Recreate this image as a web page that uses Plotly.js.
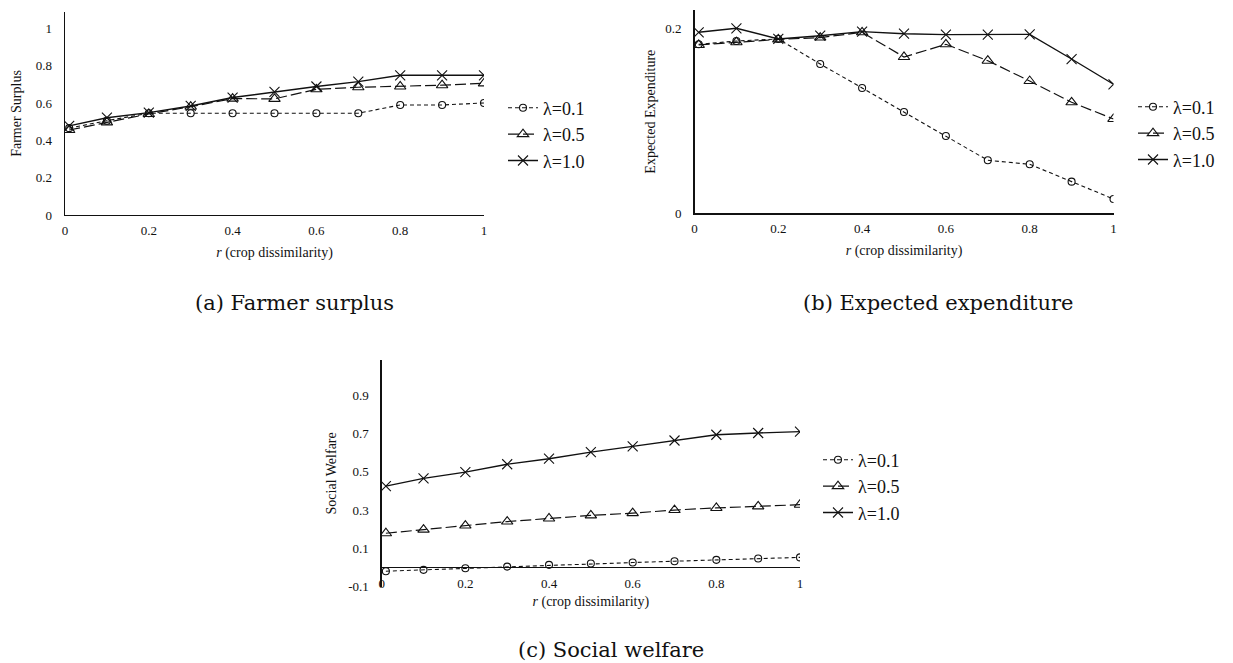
<!DOCTYPE html>
<html>
<head>
<meta charset="utf-8">
<script src="https://cdn.plot.ly/plotly-3.0.1.min.js"></script>
<style>html,body{margin:0;padding:0;background:#fff;}#chart{width:1233px;height:663px;}</style>
</head>
<body>
<div id="chart"></div>
<script>
// ---- data ----
const r = [0.01, 0.1, 0.2, 0.3, 0.4, 0.5, 0.6, 0.7, 0.8, 0.9, 1];
const seriesNames = ['λ=0.1', 'λ=0.5', 'λ=1.0'];

const farmer01 = [0.465, 0.505, 0.545, 0.545, 0.545, 0.545, 0.545, 0.545, 0.589, 0.589, 0.600];
const farmer05 = [0.455, 0.496, 0.541, 0.580, 0.623, 0.622, 0.673, 0.684, 0.688, 0.695, 0.705];
const farmer10 = [0.477, 0.521, 0.548, 0.584, 0.629, 0.659, 0.688, 0.714, 0.748, 0.748, 0.748];

const expend01 = [0.1827, 0.1863, 0.1885, 0.1614, 0.1355, 0.1095, 0.0836, 0.0573, 0.0530, 0.0342, 0.0155];
const expend05 = [0.1820, 0.1850, 0.1880, 0.1900, 0.1957, 0.1690, 0.1827, 0.1650, 0.1430, 0.1200, 0.1020];
const expend10 = [0.1957, 0.2000, 0.1885, 0.1920, 0.1964, 0.1942, 0.1932, 0.1932, 0.1935, 0.1668, 0.1395];

const welfare01 = [-0.019, -0.012, -0.004, 0.005, 0.014, 0.021, 0.026, 0.033, 0.040, 0.047, 0.053];
const welfare05 = [0.179, 0.198, 0.219, 0.240, 0.256, 0.272, 0.284, 0.300, 0.311, 0.319, 0.328];
const welfare10 = [0.425, 0.465, 0.498, 0.539, 0.568, 0.602, 0.632, 0.663, 0.693, 0.702, 0.709];

const welfareTickVals = [-0.1, 0.1, 0.3, 0.5, 0.7, 0.9];
const welfareTickText = ['-0.1', '0.1', '0.3', '0.5', '0.7', '0.9'];

const captions = ['(a) Farmer surplus', '(b) Expected expenditure', '(c) Social welfare'];
const yTitles = ['Farmer Surplus', 'Expected Expenditure', 'Social Welfare'];
const xTitle = '<i>r</i> (crop dissimilarity)';

// ---- styles ----
const W = 1233, H = 663;
const serif = 'Liberation Serif, Times New Roman, serif';
const ink = '#111111';
const capFont = {family: 'DejaVu Serif, serif', size: 21, color: ink};
const styles = [
  {dash: '4px,3px', symbol: 'circle-open', size: 7, width: 1.1},
  {dash: '11px,4px', symbol: 'triangle-up-open', size: 10, width: 1.2},
  {dash: 'solid', symbol: 'x-thin-open', size: 10, width: 1.4}
];

function mk(ys, i, xa, ya, leg) {
  const s = styles[i];
  return {
    x: r, y: ys, name: seriesNames[i], type: 'scatter', mode: 'lines+markers',
    xaxis: xa, yaxis: ya, legend: leg,
    line: {color: ink, width: s.width, dash: s.dash},
    marker: {symbol: s.symbol, size: s.size, color: ink, line: {color: ink, width: 1.1}}
  };
}

const traces = [
  mk(farmer01, 0, 'x', 'y', 'legend'),
  mk(farmer05, 1, 'x', 'y', 'legend'),
  mk(farmer10, 2, 'x', 'y', 'legend'),
  mk(expend01, 0, 'x2', 'y2', 'legend2'),
  mk(expend05, 1, 'x2', 'y2', 'legend2'),
  mk(expend10, 2, 'x2', 'y2', 'legend2'),
  mk(welfare01, 0, 'x3', 'y3', 'legend3'),
  mk(welfare05, 1, 'x3', 'y3', 'legend3'),
  mk(welfare10, 2, 'x3', 'y3', 'legend3')
];

const px = v => v / W;
const py = v => 1 - v / H;
const tickFont = {family: serif, size: 13, color: ink};
const titleFont = {family: serif, size: 14, color: ink};

function xax(d0, d1, anchor, standoff, extra) {
  return Object.assign({
    domain: [px(d0), px(d1)], anchor: anchor, range: [0, 1], dtick: 0.2, tick0: 0,
    showgrid: false, zeroline: false, showline: true, linecolor: ink, linewidth: 1.3,
    ticks: '', tickfont: tickFont, ticklabelstandoff: 3,
    title: {text: xTitle, font: titleFont, standoff: standoff}
  }, extra || {});
}
function yax(d0, d1, anchor, range, title, standoff, extra) {
  return Object.assign({
    domain: [py(d1), py(d0)], anchor: anchor, range: range, dtick: 0.2, tick0: 0,
    showgrid: false, zeroline: false, showline: true, linecolor: ink, linewidth: 1.3,
    ticks: '', tickfont: tickFont, ticklabelstandoff: 9,
    title: {text: title, font: titleFont, standoff: standoff}
  }, extra || {});
}

const legendBase = {
  font: {family: serif, size: 18, color: ink},
  bgcolor: 'rgba(0,0,0,0)', borderwidth: 0, xanchor: 'left', yanchor: 'top',
  tracegroupgap: 0, itemwidth: 30
};

function cap(i, x, y) {
  return {text: captions[i], x: px(x), y: py(y), xref: 'paper', yref: 'paper',
          xanchor: 'center', yanchor: 'middle', showarrow: false, font: capFont};
}

const layout = {
  width: W, height: H, margin: {l: 0, r: 0, t: 0, b: 0},
  paper_bgcolor: '#fff', plot_bgcolor: '#fff',
  font: {family: serif, color: ink},
  xaxis: xax(65, 484, 'y', 10),
  yaxis: yax(12, 215, 'x', [0, 1.087], yTitles[0], 11),
  xaxis2: xax(694.5, 1113.5, 'y2', 10),
  yaxis2: yax(10, 213.3, 'x2', [0, 0.2198], yTitles[1], 6),
  xaxis3: xax(381.7, 800, 'y3', 6, {showline: false, ticklabelstandoff: -13}),
  yaxis3: yax(360, 586.7, 'x3', [-0.1, 1.083], yTitles[2], 8,
    {tickmode: 'array', tickvals: welfareTickVals, ticktext: welfareTickText,
     zeroline: true, zerolinecolor: ink, zerolinewidth: 1.3}),
  legend: Object.assign({x: px(503), y: py(89.5)}, legendBase),
  legend2: Object.assign({x: px(1133), y: py(88.5)}, legendBase),
  legend3: Object.assign({x: px(818), y: py(441.5)}, legendBase),
  annotations: [cap(0, 294, 303), cap(1, 938, 303), cap(2, 611, 650)]
};

Plotly.newPlot('chart', traces, layout, {staticPlot: true, displayModeBar: false});
</script>
</body>
</html>
